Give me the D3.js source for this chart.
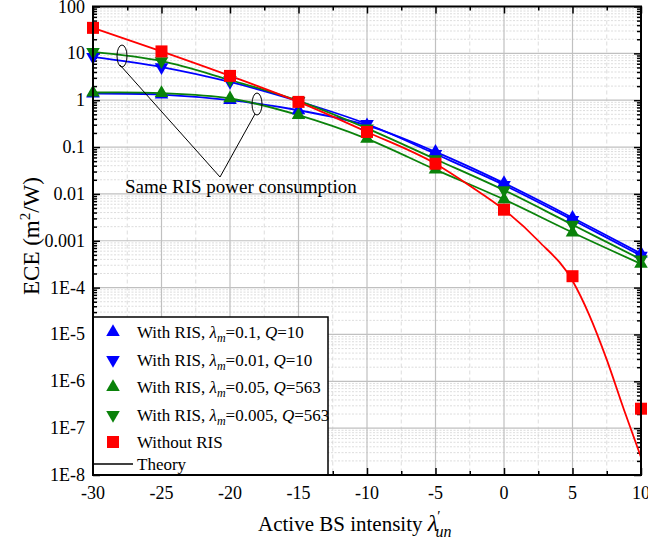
<!DOCTYPE html>
<html>
<head>
<meta charset="utf-8">
<script src="https://cdn.jsdelivr.net/npm/d3@7"></script>
<style>
  body { margin: 0; background: #fff; }
  svg { display: block; font-family: "Liberation Serif", "Times New Roman", serif; }
</style>
</head>
<body>
<svg id="chart" width="648" height="556"></svg>
<script>
"use strict"

// x positions of the simulated points
var xs          = [-30, -25, -20, -15, -10, -5, 0, 5, 10];
var ris01Q10    = [1.39, 1.32, 1.0, 0.61, 0.29, 0.079, 0.017, 0.0031, 5.3e-4];
var ris001Q10   = [8.4, 5.1, 2.45, 0.95, 0.31, 0.071, 0.0155, 0.0028, 4.8e-4];
var ris005Q563  = [1.46, 1.42, 1.09, 0.48, 0.15, 0.033, 0.0076, 0.0015, 3.2e-4];
var ris0005Q563 = [10.7, 6.8, 2.7, 0.97, 0.25, 0.055, 0.012, 0.0022, 4.0e-4];
var noRisSim    = [35, 11, 3.3, 0.92, 0.21, 0.044, 0.0046, 1.75e-4, 2.6e-7];

// theory curve without RIS
var noRisTheoryX = [-30, -25, -20, -15, -10, -5, -2.5, 0, 2.5, 5, 6.25, 7.5, 8.75, 10];
var noRisTheoryY = [35, 11, 3.3, 0.92, 0.21, 0.044, 0.015, 0.0046, 1.0e-3, 1.4e-4, 2.5e-5, 2.9e-6, 2.5e-7, 2.4e-8];

var xTicks = [-30, -25, -20, -15, -10, -5, 0, 5, 10];
var yTicks = [100, 10, 1, 0.1, 0.01, 0.001, 1e-4, 1e-5, 1e-6, 1e-7, 1e-8];
var yTickLabels = ["100", "10", "1", "0.1", "0.01", "0.001", "1E-4", "1E-5", "1E-6", "1E-7", "1E-8"];

var series = [
    { name: "ris01",   vals: ris01Q10,    color: "#0000ff", mark: "up",   lam: "0.1",   q: "10"  },
    { name: "ris001",  vals: ris001Q10,   color: "#0000ff", mark: "down", lam: "0.01",  q: "10"  },
    { name: "ris005",  vals: ris005Q563,  color: "#0a820a", mark: "up",   lam: "0.05",  q: "563" },
    { name: "ris0005", vals: ris0005Q563, color: "#0a820a", mark: "down", lam: "0.005", q: "563" }
];
var red = "#ff0000";

var L = 93, R = 641, T = 6.5, B = 475;
var svg = d3.select("#chart");

var x = d3.scaleLinear().domain([-30, 10]).range([L, R]);
var y = d3.scaleLog().domain([1e-8, 100]).range([B, T]);

// minor values
var xMinor = d3.range(-27.5, 10, 5);
var yMinor = [];
for (var e = -8; e < 2; e++)
    for (var k = 2; k <= 9; k++)
        yMinor.push(k * Math.pow(10, e));

// grid
var grid = svg.append("g");
grid.selectAll("line.ymin").data(yMinor).enter().append("line")
    .attr("x1", L).attr("x2", R)
    .attr("y1", d => y(d)).attr("y2", d => y(d))
    .style("stroke", "#d4d4d4").style("stroke-width", 0.8)
    .style("stroke-dasharray", "2,1.5");
grid.selectAll("line.xmin").data(xMinor).enter().append("line")
    .attr("y1", T).attr("y2", B)
    .attr("x1", d => x(d)).attr("x2", d => x(d))
    .style("stroke", "#d4d4d4").style("stroke-width", 0.8)
    .style("stroke-dasharray", "4,3");
grid.selectAll("line.ymaj").data(yTicks).enter().append("line")
    .attr("x1", L).attr("x2", R)
    .attr("y1", d => y(d)).attr("y2", d => y(d))
    .style("stroke", "#c0c0c0").style("stroke-width", 1.2);
grid.selectAll("line.xmaj").data(xTicks).enter().append("line")
    .attr("y1", T).attr("y2", B)
    .attr("x1", d => x(d)).attr("x2", d => x(d))
    .style("stroke", "#c0c0c0").style("stroke-width", 1.2);

// axes with inward ticks
function tickAxis(axis, pos) {
    return svg.append("g").attr("transform", pos).call(axis)
        .call(g => g.select(".domain").remove())
        .call(g => g.selectAll("line").style("stroke", "#000").style("stroke-width", 1.5));
}
tickAxis(d3.axisBottom(x).tickValues(xTicks).tickSize(-7).tickFormat(""), "translate(0," + B + ")");
tickAxis(d3.axisBottom(x).tickValues(xMinor).tickSize(-4).tickFormat(""), "translate(0," + B + ")");
tickAxis(d3.axisTop(x).tickValues(xTicks).tickSize(-7).tickFormat(""), "translate(0," + T + ")");
tickAxis(d3.axisTop(x).tickValues(xMinor).tickSize(-4).tickFormat(""), "translate(0," + T + ")");
tickAxis(d3.axisLeft(y).tickValues(yTicks).tickSize(-7).tickFormat(""), "translate(" + L + ",0)");
tickAxis(d3.axisLeft(y).tickValues(yMinor).tickSize(-4).tickFormat(""), "translate(" + L + ",0)");
tickAxis(d3.axisRight(y).tickValues(yTicks).tickSize(-7).tickFormat(""), "translate(" + R + ",0)");
tickAxis(d3.axisRight(y).tickValues(yMinor).tickSize(-4).tickFormat(""), "translate(" + R + ",0)");

// tick labels
svg.append("g").selectAll("text").data(xTicks).enter().append("text")
    .attr("x", d => x(d)).attr("y", B + 24)
    .attr("text-anchor", "middle").style("font-size", "18px")
    .text(d => d);
svg.append("g").selectAll("text").data(yTicks).enter().append("text")
    .attr("x", L - 8).attr("y", d => y(d) + 6)
    .attr("text-anchor", "end").style("font-size", "18px")
    .text((d, i) => yTickLabels[i]);

// curves
var line = d3.line().x(d => x(d[0])).y(d => y(d[1])).curve(d3.curveCatmullRom.alpha(0.5));
var redLine = d3.line().x(d => x(d[0])).y(d => y(d[1])).curve(d3.curveMonotoneX);
var curves = svg.append("g");
series.forEach(function(s) {
    curves.append("path")
        .attr("d", line(xs.map((v, i) => [v, s.vals[i]])))
        .style("fill", "none").style("stroke", s.color).style("stroke-width", 1.8);
});
curves.append("path")
    .attr("d", redLine(noRisTheoryX.map((v, i) => [v, noRisTheoryY[i]])))
    .style("fill", "none").style("stroke", red).style("stroke-width", 1.8);

// markers
var tri = d3.symbol().type(d3.symbolTriangle).size(80);
function drawMark(g, kind, color, cx, cy) {
    if (kind == "square") {
        g.append("rect").attr("x", cx - 6).attr("y", cy - 6)
            .attr("width", 12).attr("height", 12).style("fill", color);
        return;
    }
    var rot = kind == "down" ? 180 : 0;
    g.append("path").attr("d", tri())
        .attr("transform", "translate(" + cx + "," + cy + ") rotate(" + rot + ")")
        .style("fill", color);
}
var marks = svg.append("g");
series.forEach(function(s) {
    s.vals.forEach(function(v, i) { drawMark(marks, s.mark, s.color, x(xs[i]), y(v)); });
});
noRisSim.forEach(function(v, i) { drawMark(marks, "square", red, x(xs[i]), y(v)); });

// annotation
var ann = svg.append("g").style("fill", "none").style("stroke", "#000").style("stroke-width", 1);
ann.append("ellipse").attr("cx", 122).attr("cy", 56).attr("rx", 5).attr("ry", 11);
ann.append("ellipse").attr("cx", 257).attr("cy", 104).attr("rx", 5).attr("ry", 11);
ann.append("polyline").attr("points", "120,65 220,177 255,114");
svg.append("text").attr("x", 125).attr("y", 193)
    .style("font-size", "19px").text("Same RIS power consumption");

// legend
var lg = svg.append("g");
lg.append("rect").attr("x", L).attr("y", 317).attr("width", 235).attr("height", B - 317)
    .style("fill", "#fff").style("stroke", "#000").style("stroke-width", 1.5);
var rowY = [332, 360, 387, 415, 442, 464];
series.forEach(function(s, i) {
    drawMark(lg, s.mark, s.color, 113, rowY[i]);
    var t = lg.append("text").attr("x", 137).attr("y", rowY[i] + 6).style("font-size", "17px");
    t.append("tspan").text("With RIS, ");
    t.append("tspan").style("font-style", "italic").text("\u03bb");
    t.append("tspan").style("font-style", "italic").style("font-size", "12px").attr("dy", 4).text("m");
    t.append("tspan").attr("dy", -4).text("=" + s.lam + ", ");
    t.append("tspan").style("font-style", "italic").text("Q");
    t.append("tspan").text("=" + s.q);
});
drawMark(lg, "square", red, 113, rowY[4]);
lg.append("text").attr("x", 137).attr("y", rowY[4] + 6).style("font-size", "17px").text("Without RIS");
lg.append("line").attr("x1", 94).attr("x2", 133).attr("y1", rowY[5]).attr("y2", rowY[5])
    .style("stroke", "#000").style("stroke-width", 1.5);
lg.append("text").attr("x", 137).attr("y", rowY[5] + 6).style("font-size", "17px").text("Theory");

// axis frame
svg.append("rect").attr("x", L).attr("y", T).attr("width", R - L).attr("height", B - T)
    .style("fill", "none").style("stroke", "#000").style("stroke-width", 2);

// axis titles
var xt = svg.append("text").attr("x", 258).attr("y", 531).style("font-size", "21px");
xt.append("tspan").text("Active BS intensity ");
xt.append("tspan").style("font-style", "italic").style("font-size", "24px").text("\u03bb");
xt.append("tspan").attr("dy", -10).attr("dx", -1).style("font-size", "15px").text("\u2032");
xt.append("tspan").attr("dy", 16).attr("dx", -5).style("font-style", "italic").style("font-size", "16px").text("un");

var yt = svg.append("text").attr("transform", "translate(39,236) rotate(-90)")
    .attr("text-anchor", "middle").style("font-size", "23px");
yt.append("tspan").text("ECE (m");
yt.append("tspan").attr("dy", -9).style("font-size", "15px").text("2");
yt.append("tspan").attr("dy", 9).text("/W)");
</script>
</body>
</html>
